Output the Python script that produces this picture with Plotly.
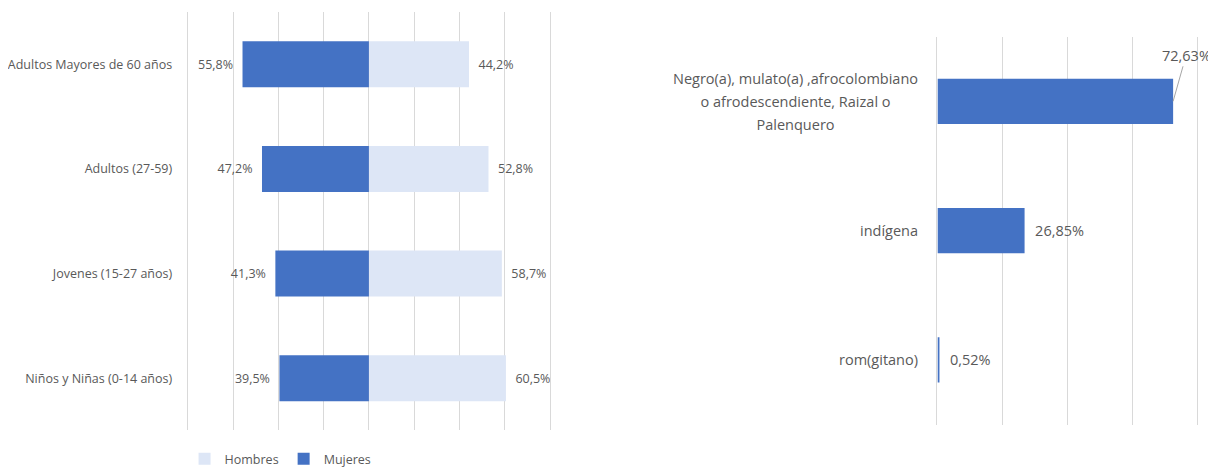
import plotly.graph_objects as go

# ---- data ----
age_groups = ["Adultos Mayores de 60 años", "Adultos (27-59)", "Jovenes (15-27 años)", "Niños y Niñas (0-14 años)"]
mujeres = [55.8, 47.2, 41.3, 39.5]
hombres = [44.2, 52.8, 58.7, 60.5]

ethnic_groups = ["Negro(a), mulato(a) ,afrocolombiano<br>o afrodescendiente, Raizal o<br>Palenquero",
                 "indígena", "rom(gitano)"]
ethnic_values = [72.63, 26.85, 0.52]

OFF = 8  # page body margin
W, H = 1216 - OFF, 474 - OFF
TXT = "#595959"
GRID = "#D9D9D9"
DARK = "#4472C4"
LIGHT = "#DDE6F6"
FONT = "Open Sans"


def pct(v, d=1):
    return f"{v:.{d}f}%".replace(".", ",")


def xdom(a, b):
    return [(a - OFF) / W, (b - OFF) / W]


def ydom(top, bottom):
    return [1 - (bottom - OFF) / H, 1 - (top - OFF) / H]


fig = go.Figure()

fig.add_trace(go.Bar(
    name="Hombres", y=age_groups, x=hombres, orientation="h",
    marker=dict(color=LIGHT, line=dict(width=0)), width=0.44,
    text=["\u00a0\u00a0" + pct(v) for v in hombres], textposition="outside",
    textfont=dict(size=12.5, color=TXT, family=FONT), cliponaxis=False,
    xaxis="x", yaxis="y", hoverinfo="skip"))

fig.add_trace(go.Bar(
    name="Mujeres", y=age_groups, x=[-v for v in mujeres], orientation="h",
    marker=dict(color=DARK, line=dict(width=0)), width=0.44,
    text=[pct(v) + "\u00a0\u00a0" for v in mujeres], textposition="outside",
    textfont=dict(size=12.5, color=TXT, family=FONT), cliponaxis=False,
    xaxis="x", yaxis="y", hoverinfo="skip"))

eth_text = [""] + ["\u00a0\u00a0" + pct(v, 2) for v in ethnic_values[1:]]
fig.add_trace(go.Bar(
    name="Etnia", y=ethnic_groups, x=ethnic_values, orientation="h",
    marker=dict(color=DARK, line=dict(width=0)), width=0.35,
    text=eth_text, textposition="outside",
    textfont=dict(size=14.5, color=TXT, family=FONT), cliponaxis=False,
    xaxis="x2", yaxis="y2", showlegend=False, hoverinfo="skip"))

annotations = []
# leader-line label for the largest bar
annotations.append(dict(
    x=ethnic_values[0], y=ethnic_groups[0], xref="x2", yref="y2",
    text=pct(ethnic_values[0], 2), showarrow=True, arrowhead=0,
    arrowwidth=1, arrowcolor="#A6A6A6", ax=13, ay=-46, standoff=0,
    font=dict(size=14.5, color=TXT, family=FONT)))
# category labels for the right chart (centered multi-line, wider line spacing)
for g in ethnic_groups:
    lines = g.split("<br>")
    label = "<br>".join(f"<span style='font-size:14.5px'>{ln}</span>" for ln in lines)
    annotations.append(dict(
        x=(937 - 17 - OFF) / W, y=g, xref="paper", yref="y2", xanchor="right",
        yanchor="middle", align="center", text=label, showarrow=False,
        font=dict(size=17.5, color=TXT, family=FONT)))

fig.update_layout(
    width=W, height=H,
    margin=dict(l=0, r=0, t=0, b=0),
    paper_bgcolor="white", plot_bgcolor="white",
    barmode="relative",
    font=dict(family=FONT, color=TXT),
    showlegend=True,
    legend=dict(orientation="h", x=(279 - OFF) / W, xanchor="center", y=1 - (465 - OFF) / H,
                yanchor="middle", font=dict(size=12.5, color=TXT, family=FONT),
                itemwidth=30, traceorder="normal"),
    xaxis=dict(domain=xdom(186, 549), range=[-80, 80], dtick=20,
               showgrid=True, gridcolor=GRID, gridwidth=1, zeroline=False,
               showticklabels=False, showline=False, fixedrange=True),
    yaxis=dict(domain=ydom(12, 436), anchor="x", autorange="reversed",
               showgrid=False, zeroline=False, showline=True, mirror=True,
               linecolor=GRID, linewidth=1, ticks="",
               ticklabelstandoff=12,
               tickfont=dict(size=12.5, color=TXT, family=FONT)),
    xaxis2=dict(domain=xdom(937, 1197), range=[0, 80], dtick=20, anchor="y2",
                showgrid=True, gridcolor=GRID, gridwidth=1, zeroline=False,
                showticklabels=False, showline=False),
    yaxis2=dict(domain=ydom(37, 430), anchor="x2", autorange="reversed",
                showgrid=False, zeroline=False, showline=True, mirror=True,
                linecolor=GRID, linewidth=1, ticks="",
                showticklabels=False),
    annotations=annotations,
)

fig.write_html("out.html")
